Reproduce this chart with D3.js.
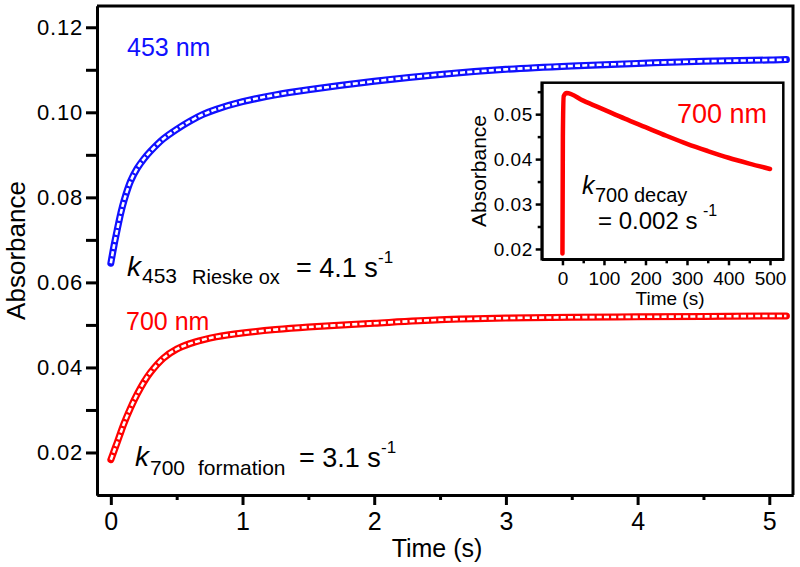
<!DOCTYPE html>
<html>
<head>
<meta charset="utf-8">
<script src="https://cdn.jsdelivr.net/npm/d3@7"></script>
<style>
  html, body { margin: 0; padding: 0; background: #fff; }
  svg text { font-family: "Liberation Sans", Arial, Helvetica, sans-serif; }
</style>
</head>
<body>
<svg id="chart" width="800" height="567"></svg>
<script>
// ---- Data ----
const timeMain = [0, 0.025, 0.05, 0.075, 0.1, 0.15, 0.2, 0.25, 0.3, 0.4, 0.5, 0.6, 0.7, 0.8, 1.0, 1.25, 1.5, 2.0, 2.5, 3.0, 3.5, 4.0, 4.5, 5.0, 5.13];
const abs453 = [0.0645, 0.0688, 0.0726, 0.0762, 0.0792, 0.0838, 0.0868, 0.0890, 0.0908, 0.0938, 0.0960, 0.0979, 0.0995, 0.1007, 0.1025, 0.1041, 0.1053, 0.1073, 0.1089, 0.1101, 0.1109, 0.1115, 0.1120, 0.1123, 0.1124];
const abs700 = [0.0183, 0.0204, 0.0225, 0.0247, 0.0268, 0.0305, 0.0337, 0.0365, 0.0388, 0.0422, 0.0443, 0.0456, 0.0465, 0.0472, 0.0481, 0.0489, 0.0495, 0.0504, 0.0512, 0.0516, 0.0518, 0.0519, 0.0520, 0.0521, 0.0521];

const timeInset = [0, 1, 3, 10, 50, 100, 150, 200, 250, 300, 350, 400, 450, 500];
const abs700Inset = [0.0190, 0.0450, 0.0540, 0.0547, 0.0530, 0.0510, 0.0490, 0.0471, 0.0452, 0.0434, 0.0418, 0.0403, 0.0390, 0.0378];

const mainXTicks = [0, 1, 2, 3, 4, 5];
const mainXMinor = [0.5, 1.5, 2.5, 3.5, 4.5];
const mainYTicks = [0.02, 0.04, 0.06, 0.08, 0.10, 0.12];
const mainYMinor = [0.03, 0.05, 0.07, 0.09, 0.11];
const insetXTicks = [0, 100, 200, 300, 400, 500];
const insetXMinor = [50, 150, 250, 350, 450];
const insetYTicks = [0.02, 0.03, 0.04, 0.05];
const insetYMinor = [0.025, 0.035, 0.045, 0.055];

const BLUE = "#1010ff", RED = "#ff0000";
const FONT = '"Liberation Sans", Arial, Helvetica, sans-serif';

const svg = d3.select("#chart");

// ---- Main plot ----
const x = d3.scaleLinear().domain([-0.105, 5.18]).range([97, 793]);
const y = d3.scaleLinear().domain([0.01, 0.125]).range([495, 6]);

const X0 = x.range()[0], X1 = x.range()[1], Y0 = y.range()[0], Y1 = y.range()[1];

svg.append("path")
  .attr("d", `M${X0},${Y1}H${X1}V${Y0}`)
  .attr("fill", "none").attr("stroke", "#000").attr("stroke-width", 3);

function styleAxis(g, fontSize, width) {
  g.select(".domain").attr("stroke", "#000").attr("stroke-width", width);
  g.selectAll(".tick line").attr("stroke", "#000").attr("stroke-width", width);
  g.selectAll(".tick text").attr("fill", "#000").style("font-size", fontSize + "px").style("font-family", FONT);
}

const yAxisMinor = svg.append("g").attr("transform", `translate(${X0},0)`)
  .call(d3.axisLeft(y).tickValues(mainYMinor).tickSize(11).tickSizeOuter(0).tickFormat(""));
styleAxis(yAxisMinor, 22, 3);
const yAxis = svg.append("g").attr("transform", `translate(${X0},0)`)
  .call(d3.axisLeft(y).tickValues(mainYTicks).tickSize(11).tickSizeOuter(0).tickPadding(3).tickFormat(d3.format(".2f")));
styleAxis(yAxis, 22, 3);
yAxis.selectAll(".tick text").attr("letter-spacing", "0.8px");

const xAxisMinor = svg.append("g").attr("transform", `translate(0,${Y0})`)
  .call(d3.axisBottom(x).tickValues(mainXMinor).tickSize(5).tickSizeOuter(0).tickFormat(""));
styleAxis(xAxisMinor, 25, 3);
const xAxis = svg.append("g").attr("transform", `translate(0,${Y0})`)
  .call(d3.axisBottom(x).tickValues(mainXTicks).tickSize(10).tickSizeOuter(0).tickPadding(7).tickFormat(d3.format("d")));
styleAxis(xAxis, 25, 3);

svg.append("text").attr("x", 437).attr("y", 557).attr("text-anchor", "middle")
  .style("font-size", "25px").text("Time (s)");
svg.append("text").attr("transform", `translate(25,${(Y0 + Y1) / 2}) rotate(-90)`)
  .attr("text-anchor", "middle").style("font-size", "26px").text("Absorbance");

const line = d3.line().x(d => x(d[0])).y(d => y(d[1])).curve(d3.curveCatmullRom.alpha(0.5));
function drawTrace(vals, color) {
  const pts = timeMain.map((t, i) => [t, vals[i]]);
  svg.append("path").attr("d", line(pts)).attr("fill", "none")
    .attr("stroke", color).attr("stroke-width", 7).attr("stroke-linecap", "round").attr("stroke-linejoin", "round");
  svg.append("path").attr("d", line(pts)).attr("fill", "none")
    .attr("stroke", "#fff").attr("stroke-width", 2.6).attr("stroke-dasharray", "5,2.2");
}
drawTrace(abs453, BLUE);
drawTrace(abs700, RED);

svg.append("text").attr("x", 127).attr("y", 56).attr("fill", BLUE).style("font-size", "25px").text("453 nm");
svg.append("text").attr("x", 126).attr("y", 330).attr("fill", RED).style("font-size", "25px").text("700 nm");

// k453 annotation
svg.append("text").attr("x", 127).attr("y", 276).style("font-size", "28px").style("font-style", "italic").text("k");
svg.append("text").attr("x", 142).attr("y", 283).style("font-size", "21px").text("453");
svg.append("text").attr("x", 192).attr("y", 284).style("font-size", "20px").text("Rieske ox");
svg.append("text").attr("x", 296).attr("y", 277).style("font-size", "27px").text("= 4.1 s");
svg.append("text").attr("x", 378).attr("y", 263).style("font-size", "17px").text("-1");

// k700 formation annotation
svg.append("text").attr("x", 135).attr("y", 466).style("font-size", "28px").style("font-style", "italic").text("k");
svg.append("text").attr("x", 150).attr("y", 475).style("font-size", "21px").text("700");
svg.append("text").attr("x", 198).attr("y", 475).style("font-size", "21px").text("formation");
svg.append("text").attr("x", 299).attr("y", 467).style("font-size", "27px").text("= 3.1 s");
svg.append("text").attr("x", 381).attr("y", 453).style("font-size", "17px").text("-1");

// ---- Inset ----
const xi = d3.scaleLinear().domain([-50, 532]).range([541.7, 783.3]);
const yi = d3.scaleLinear().domain([0.0177, 0.057]).range([259.3, 82.7]);
const IX0 = xi.range()[0], IX1 = xi.range()[1], IY0 = yi.range()[0], IY1 = yi.range()[1];

svg.append("rect").attr("x", IX0).attr("y", IY1).attr("width", IX1 - IX0).attr("height", IY0 - IY1)
  .attr("fill", "#fff").attr("stroke", "#000").attr("stroke-width", 2.5);

const iyMinor = svg.append("g").attr("transform", `translate(${IX0},0)`)
  .call(d3.axisLeft(yi).tickValues(insetYMinor).tickSize(4).tickSizeOuter(0).tickFormat(""));
styleAxis(iyMinor, 19, 2.5);
const iyAxis = svg.append("g").attr("transform", `translate(${IX0},0)`)
  .call(d3.axisLeft(yi).tickValues(insetYTicks).tickSize(6).tickSizeOuter(0).tickPadding(3).tickFormat(d3.format(".2f")));
styleAxis(iyAxis, 19, 2.5);
iyAxis.selectAll(".tick text").attr("letter-spacing", "0.5px");

const ixMinor = svg.append("g").attr("transform", `translate(0,${IY0})`)
  .call(d3.axisBottom(xi).tickValues(insetXMinor).tickSize(4).tickSizeOuter(0).tickFormat(""));
styleAxis(ixMinor, 19, 2.5);
const ixAxis = svg.append("g").attr("transform", `translate(0,${IY0})`)
  .call(d3.axisBottom(xi).tickValues(insetXTicks).tickSize(6).tickSizeOuter(0).tickPadding(6).tickFormat(d3.format("d")));
styleAxis(ixAxis, 19, 2.5);

svg.append("text").attr("x", 670).attr("y", 305).attr("text-anchor", "middle")
  .style("font-size", "19px").text("Time (s)");
svg.append("text").attr("transform", `translate(486,${(IY0 + IY1) / 2}) rotate(-90)`)
  .attr("text-anchor", "middle").style("font-size", "21px").text("Absorbance");

const lineI = d3.line().x(d => xi(d[0])).y(d => yi(d[1])).curve(d3.curveMonotoneX);
svg.append("path").attr("d", lineI(timeInset.map((t, i) => [t, abs700Inset[i]])))
  .attr("fill", "none").attr("stroke", RED).attr("stroke-width", 4.5)
  .attr("stroke-linecap", "round").attr("stroke-linejoin", "round");

svg.append("text").attr("x", 677).attr("y", 123).attr("fill", RED).style("font-size", "27px").text("700 nm");
svg.append("text").attr("x", 582).attr("y", 194).style("font-size", "25px").style("font-style", "italic").text("k");
svg.append("text").attr("x", 595).attr("y", 202).style("font-size", "20px").text("700 decay");
svg.append("text").attr("x", 598).attr("y", 229).style("font-size", "24px").text("= 0.002 s");
svg.append("text").attr("x", 703).attr("y", 216).style("font-size", "16px").text("-1");
</script>
</body>
</html>
